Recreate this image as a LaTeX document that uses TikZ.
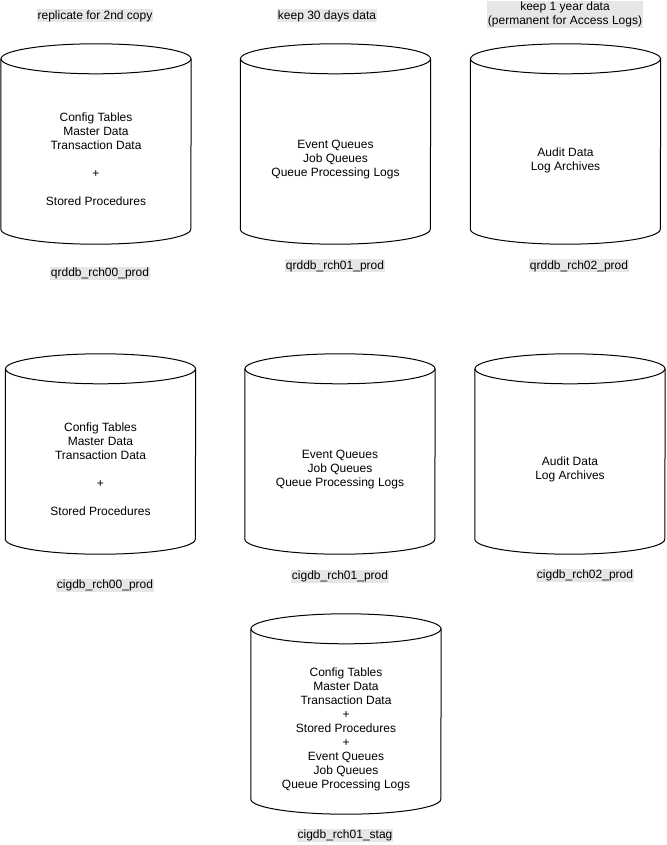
\documentclass[tikz,border=0pt]{standalone}
\usepackage{fontspec}
\setmainfont{Liberation Sans}
\definecolor{lblbg}{HTML}{E6E6E6}
\tikzset{
  cylbody/.style={draw=none, minimum width=190pt, minimum height=200pt, inner sep=0pt},
  cylline/.style={draw=black, line width=1pt},
  cyltext/.style={align=center, font=\fontsize{12}{14}\selectfont, inner sep=0pt},
  dblabel/.style={fill=lblbg, font=\fontsize{12}{14}\selectfont, inner xsep=0.5pt, inner ysep=0.5pt, text height=9.5pt, text depth=2.5pt, align=center},
}
\newcommand\dbcylinder[1]{%
  \draw[cylline] ([yshift=-15pt]#1.north) ellipse [x radius=95pt, y radius=15pt];
  \draw[cylline] ([yshift=-15pt]#1.north west) -- ([yshift=15pt]#1.south west)
     arc[start angle=180, end angle=360, x radius=95pt, y radius=15pt]
     -- ([yshift=-15pt]#1.north east);
}
\begin{document}
\begin{tikzpicture}[x=1pt, y=-1pt]
\useasboundingbox (0,0) rectangle (666,845);
% row 1
\node[cylbody] (c1) at (96,144) {};
\node[cylbody] (c2) at (335.5,144) {};
\node[cylbody] (c3) at (565.5,144) {};
% row 2
\node[cylbody] (c4) at (100.5,454) {};
\node[cylbody] (c5) at (340,454) {};
\node[cylbody] (c6) at (570,454) {};
% row 3
\node[cylbody] (c7) at (346,714) {};
\dbcylinder{c1}\dbcylinder{c2}\dbcylinder{c3}
\dbcylinder{c4}\dbcylinder{c5}\dbcylinder{c6}\dbcylinder{c7}
% texts
\node[cyltext] (t1) at (96,159) {Config Tables\\Master Data\\Transaction Data\\[14pt]+\\[14pt]Stored Procedures};
\node[cyltext] (t2) at (335.5,159.5) {Event Queues\\Job Queues\\Queue Processing Logs};
\node[cyltext] (t3) at (565.5,160) {Audit Data\\Log Archives};
\node[cyltext] (t4) at (100.5,469.5) {Config Tables\\Master Data\\Transaction Data\\[14pt]+\\[14pt]Stored Procedures};
\node[cyltext] (t5) at (340,470) {Event Queues\\Job Queues\\Queue Processing Logs};
\node[cyltext] (t6) at (570,469) {Audit Data\\Log Archives};
\node[cyltext] (t7) at (346,729) {Config Tables\\Master Data\\Transaction Data\\+\\Stored Procedures\\+\\Event Queues\\Job Queues\\Queue Processing Logs};
% labels
\node[dblabel] (n1) at (95,16) {replicate for 2nd copy};
\node[dblabel] (n2) at (327,16) {keep 30 days data};
\node[dblabel, text height=23.5pt] (n3) at (565,14.5) {keep 1 year data\\(permanent for Access Logs)};
\node[dblabel] (l1) at (100,273) {qrddb\_rch00\_prod};
\node[dblabel] (l2) at (335,265.5) {qrddb\_rch01\_prod};
\node[dblabel] (l3) at (579,265.5) {qrddb\_rch02\_prod};
\node[dblabel] (l4) at (105,585) {cigdb\_rch00\_prod};
\node[dblabel] (l5) at (340,576) {cigdb\_rch01\_prod};
\node[dblabel] (l6) at (585,575) {cigdb\_rch02\_prod};
\node[dblabel] (l7) at (345,835) {cigdb\_rch01\_stag};
\end{tikzpicture}
\end{document}
